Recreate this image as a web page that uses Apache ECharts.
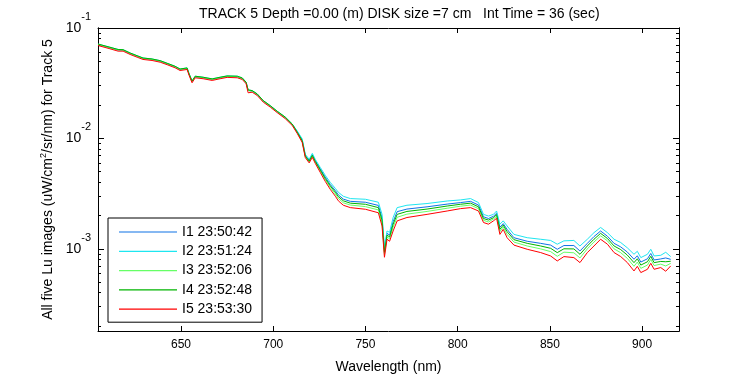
<!DOCTYPE html>
<html>
<head>
<meta charset="utf-8">
<script src="https://cdn.jsdelivr.net/npm/echarts@6/dist/echarts.min.js"></script>
<style>
  html, body { margin: 0; padding: 0; background: #fff; }
  #chart { width: 750px; height: 375px; }
</style>
</head>
<body>
<div id="chart"></div>
<script>
  // wavelength (nm)
  var wavelength = [
    605.0, 611.5, 615.9, 618.6, 622.4, 626.2, 629.4, 634.3, 638.7, 642.5, 646.8, 649.5, 653.3, 654.4, 656.0, 657.7,
    662.0, 666.9, 671.2, 675.0, 680.5, 683.2, 685.3, 686.4, 688.6, 691.3, 694.6, 698.4, 702.2, 706.5, 710.3,
    713.0, 715.7, 717.4, 719.5, 721.2, 722.8, 725.5, 728.2, 730.9, 733.7, 735.3, 738.0, 741.8, 750.0, 757.0, 759.0,
    760.3, 761.7, 763.1, 765.0, 767.2, 772.5, 783.4, 794.3, 801.5, 807.0, 811.3, 814.0, 816.7, 819.4, 821.1, 822.9,
    824.7, 826.8, 830.5, 837.7, 845.0, 850.4, 854.0, 857.6, 863.0, 866.3, 870.3, 873.9, 877.5, 881.2, 884.8, 888.4,
    892.0, 895.6, 897.4, 899.3, 902.9, 904.7, 906.5, 910.1, 912.8, 915.5
  ];

  // Lu, uW/cm^2/sr/nm
  var lu1 = [
    0.0709, 0.0662, 0.0632, 0.0630, 0.0588, 0.0556, 0.0530, 0.0519, 0.0501, 0.0474, 0.0446, 0.0421, 0.0430, 0.0380, 0.0328, 0.0362,
    0.0354, 0.0342, 0.0354, 0.0364, 0.0362, 0.0349, 0.0319, 0.0272, 0.0268, 0.0250, 0.0218, 0.0196, 0.0174, 0.0154, 0.0134,
    0.01151, 0.00968, 0.00702, 0.00632, 0.00713, 0.00630, 0.00530, 0.00446, 0.00383, 0.00336, 0.00308, 0.00282, 0.00269, 0.00264, 0.00247, 0.00191,
    0.000969, 0.00138, 0.00133, 0.00176, 0.00217, 0.00229, 0.00240, 0.00254, 0.00262, 0.00269, 0.00249, 0.00195, 0.00188, 0.00197, 0.00210, 0.00157,
    0.00169, 0.00150, 0.00126, 0.00117, 0.00112, 0.00108, 0.000990, 0.00107, 0.00107, 0.000955, 0.00112, 0.00129, 0.00145, 0.00130, 0.00112, 0.00104,
    0.000934, 0.000804, 0.000864, 0.000758, 0.000812, 0.000907, 0.000792, 0.000809, 0.000826, 0.000802
  ];
  var lu2 = [
    0.0716, 0.0669, 0.0639, 0.0636, 0.0594, 0.0561, 0.0535, 0.0524, 0.0506, 0.0479, 0.0450, 0.0425, 0.0435, 0.0384, 0.0331, 0.0366,
    0.0358, 0.0346, 0.0358, 0.0368, 0.0366, 0.0353, 0.0323, 0.0275, 0.0271, 0.0253, 0.0220, 0.0198, 0.0176, 0.0156, 0.0135,
    0.01169, 0.00990, 0.00717, 0.00646, 0.00732, 0.00646, 0.00546, 0.00463, 0.00400, 0.00352, 0.00325, 0.00299, 0.00285, 0.00281, 0.00264, 0.00205,
    0.00103, 0.00145, 0.00141, 0.00192, 0.00236, 0.00248, 0.00257, 0.00271, 0.00277, 0.00285, 0.00262, 0.00205, 0.00198, 0.00205, 0.00220, 0.00167,
    0.00179, 0.00161, 0.00135, 0.00126, 0.00122, 0.00119, 0.00110, 0.00118, 0.00119, 0.00106, 0.00122, 0.00140, 0.00156, 0.00140, 0.00122, 0.00114,
    0.00102, 0.000892, 0.000949, 0.000832, 0.000892, 0.000990, 0.000861, 0.000873, 0.000930, 0.000850
  ];
  var lu3 = [
    0.0709, 0.0662, 0.0632, 0.0630, 0.0588, 0.0556, 0.0530, 0.0519, 0.0501, 0.0474, 0.0446, 0.0421, 0.0430, 0.0380, 0.0328, 0.0362,
    0.0354, 0.0342, 0.0354, 0.0364, 0.0362, 0.0349, 0.0319, 0.0272, 0.0268, 0.0250, 0.0218, 0.0196, 0.0174, 0.0154, 0.0134,
    0.01126, 0.00939, 0.00682, 0.00613, 0.00689, 0.00608, 0.00507, 0.00423, 0.00360, 0.00313, 0.00286, 0.00261, 0.00249, 0.00241, 0.00225, 0.00172,
    0.000888, 0.00128, 0.00123, 0.00157, 0.00193, 0.00206, 0.00218, 0.00233, 0.00243, 0.00249, 0.00231, 0.00181, 0.00175, 0.00186, 0.00197, 0.00143,
    0.00158, 0.00135, 0.00115, 0.00106, 0.000998, 0.000943, 0.000855, 0.000932, 0.000920, 0.000826, 0.000998, 0.00115, 0.00131, 0.00118, 0.000998, 0.000922,
    0.000819, 0.000694, 0.000758, 0.000665, 0.000712, 0.000802, 0.000705, 0.000726, 0.000699, 0.000738
  ];
  var lu4 = [
    0.0716, 0.0669, 0.0639, 0.0636, 0.0594, 0.0561, 0.0535, 0.0524, 0.0506, 0.0479, 0.0450, 0.0425, 0.0435, 0.0384, 0.0331, 0.0366,
    0.0358, 0.0346, 0.0358, 0.0368, 0.0366, 0.0353, 0.0323, 0.0275, 0.0271, 0.0253, 0.0220, 0.0198, 0.0176, 0.0156, 0.0135,
    0.01139, 0.00954, 0.00692, 0.00622, 0.00702, 0.00619, 0.00519, 0.00434, 0.00372, 0.00325, 0.00297, 0.00272, 0.00259, 0.00253, 0.00236, 0.00182,
    0.000930, 0.00133, 0.00128, 0.00167, 0.00205, 0.00218, 0.00229, 0.00244, 0.00253, 0.00259, 0.00240, 0.00188, 0.00182, 0.00191, 0.00204, 0.00150,
    0.00164, 0.00143, 0.00121, 0.00112, 0.00106, 0.00101, 0.000923, 0.00100, 0.000997, 0.000892, 0.00106, 0.00122, 0.00138, 0.00124, 0.00106, 0.000983,
    0.000877, 0.000749, 0.000812, 0.000712, 0.000763, 0.000855, 0.000749, 0.000768, 0.000763, 0.000771
  ];
  var lu5 = [
    0.0694, 0.0648, 0.0617, 0.0617, 0.0576, 0.0544, 0.0519, 0.0508, 0.0490, 0.0465, 0.0436, 0.0412, 0.0421, 0.0372, 0.0319, 0.0354,
    0.0347, 0.0335, 0.0347, 0.0357, 0.0354, 0.0342, 0.0313, 0.0259, 0.0262, 0.0245, 0.0213, 0.0192, 0.0171, 0.0151, 0.0131,
    0.01110, 0.00920, 0.00669, 0.00600, 0.00673, 0.00594, 0.00492, 0.00408, 0.00346, 0.00299, 0.00272, 0.00248, 0.00236, 0.00228, 0.00212, 0.00161,
    0.000838, 0.00122, 0.00117, 0.00145, 0.00179, 0.00192, 0.00205, 0.00220, 0.00231, 0.00236, 0.00220, 0.00173, 0.00167, 0.00179, 0.00189, 0.00135,
    0.00150, 0.00126, 0.00108, 0.000990, 0.000924, 0.000861, 0.000776, 0.000850, 0.000832, 0.000750, 0.000924, 0.00106, 0.00122, 0.00110, 0.000924, 0.000850,
    0.000750, 0.000630, 0.000694, 0.000609, 0.000652, 0.000739, 0.000652, 0.000676, 0.000626, 0.000699
  ];

  var seriesNames = ['I1 23:50:42', 'I2 23:51:24', 'I3 23:52:06', 'I4 23:52:48', 'I5 23:53:30'];
  var seriesColors = ['#0f72e6', '#1ee6f0', '#66ff66', '#00b400', '#ff0000'];
  var seriesValues = [lu1, lu2, lu3, lu4, lu5];

  var xTicks = [650, 700, 750, 800, 850, 900];
  var yMajor = [0.001, 0.01, 0.1];
  var yMinor = [
    0.0002, 0.0003, 0.0004, 0.0005, 0.0006, 0.0007, 0.0008, 0.0009,
    0.002, 0.003, 0.004, 0.005, 0.006, 0.007, 0.008, 0.009,
    0.02, 0.03, 0.04, 0.05, 0.06, 0.07, 0.08, 0.09
  ];

  var font = 'Liberation Sans, Arial, sans-serif';
  var narrow = 'Liberation Sans Narrow, Arial Narrow, Liberation Sans, sans-serif';
  var yMin = 0.00018, yMax = 0.1;

  function yAxis(pos, ticks, len, withLabel) {
    return {
      type: 'log',
      position: pos,
      min: yMin,
      max: yMax,
      axisLine: { show: true, lineStyle: { color: '#000', width: 1 } },
      axisTick: { show: true, inside: true, length: len, customValues: ticks, lineStyle: { color: '#000' } },
      axisLabel: withLabel ? {
        show: true,
        customValues: yMajor,
        margin: 7,
        color: '#000',
        formatter: function (v) {
          return '{b|10}{s|' + Math.round(Math.log10(v)) + '}';
        },
        rich: {
          b: { fontSize: 14, fontFamily: font, color: '#000' },
          s: { fontSize: 11, fontFamily: font, color: '#000', padding: [0, 0, 22, 0] }
        }
      } : { show: false },
      splitLine: { show: false },
      minorTick: { show: false },
      minorSplitLine: { show: false }
    };
  }

  function xAxis(pos, withLabel) {
    return {
      type: 'value',
      position: pos,
      min: 605,
      max: 920,
      axisLine: { show: true, onZero: false, lineStyle: { color: '#000', width: 1 } },
      axisTick: { show: true, inside: true, length: 5, customValues: xTicks, lineStyle: { color: '#000' } },
      axisLabel: withLabel ? {
        show: true, customValues: xTicks, margin: 8, color: '#000', fontSize: 12, fontFamily: narrow
      } : { show: false },
      splitLine: { show: false },
      name: withLabel ? 'Wavelength (nm)' : '',
      nameLocation: 'middle',
      nameGap: 29,
      nameTextStyle: { color: '#000', fontSize: 14, fontFamily: font }
    };
  }

  var yLeft = yAxis('left', yMajor, 6, true);
  yLeft.name = 'All five Lu images (uW/cm{sup|2}/sr/nm) for Track 5';
  yLeft.nameLocation = 'middle';
  yLeft.nameGap = 40;
  yLeft.nameTextStyle = {
    color: '#000', fontSize: 14, fontFamily: font,
    rich: { sup: { fontSize: 9, fontFamily: font, color: '#000', padding: [0, 0, 8, 0] } }
  };

  var series = seriesNames.map(function (name, i) {
    return {
      name: name,
      type: 'line',
      xAxisIndex: 0,
      yAxisIndex: 0,
      symbol: 'none',
      showSymbol: false,
      smooth: false,
      color: seriesColors[i],
      lineStyle: { width: 1, color: seriesColors[i] },
      data: wavelength.map(function (w, k) { return [w, seriesValues[i][k]]; })
    };
  });

  var chart = echarts.init(document.getElementById('chart'), null, { renderer: 'canvas' });
  chart.setOption({
    animation: false,
    backgroundColor: '#fff',
    title: {
      text: 'TRACK 5 Depth =0.00 (m) DISK size =7 cm   Int Time = 36 (sec)',
      left: 199,
      top: 7,
      padding: 0,
      textStyle: { color: '#000', fontSize: 14, fontWeight: 'normal', fontFamily: font }
    },
    grid: { left: 98, right: 71, top: 28, bottom: 44, containLabel: false, outerBoundsMode: 'none' },
    legend: {
      orient: 'vertical',
      left: 108,
      top: 218,
      padding: [7, 10, 6, 11],
      icon: 'rect',
      itemWidth: 58,
      itemHeight: 1.2,
      itemGap: 5.3,
      borderColor: '#000',
      borderWidth: 1,
      borderRadius: 0,
      backgroundColor: '#fff',
      selectedMode: false,
      textStyle: { color: '#000', fontSize: 14, fontFamily: font, lineHeight: 14 },
      data: seriesNames
    },
    xAxis: [xAxis('bottom', true), xAxis('top', false)],
    yAxis: [
      yLeft,
      yAxis('left', yMinor, 3, false),
      yAxis('right', yMajor, 6, false),
      yAxis('right', yMinor, 3, false)
    ],
    series: series
  });
</script>
</body>
</html>
